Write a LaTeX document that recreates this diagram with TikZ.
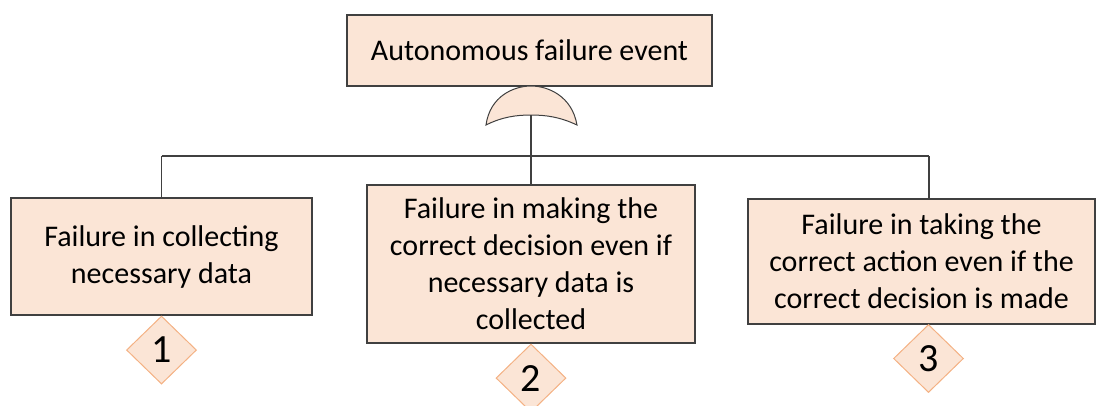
\documentclass[tikz,border=0pt]{standalone}
\usepackage{fontspec}
\setmainfont{Carlito}
\usetikzlibrary{shapes.geometric}
\definecolor{peach}{HTML}{FBE5D6}
\definecolor{peachline}{HTML}{F4B183}
\definecolor{wire}{HTML}{404040}
\begin{document}
\begin{tikzpicture}[x=1pt,y=-1pt,
  event/.style={draw=wire,line width=1.1pt,fill=peach,align=center,
    inner sep=0pt,font=\fontsize{30}{37}\selectfont},
  basic/.style={diamond,draw=peachline,line width=1pt,fill=peach,inner sep=0pt,
    minimum width=70pt,minimum height=68pt,font=\fontsize{40}{44}\selectfont},
  wireline/.style={draw=wire,line width=1.2pt}]
\useasboundingbox (0,0) rectangle (1096,405);

% top event
\node[event,minimum width=365pt,minimum height=71pt] (top) at (529.5,50.5)
  {Autonomous failure event};

% OR gate below the top event
\draw[wireline,line width=1pt,fill=peach] (486,125)
  .. controls (490,96) and (514,86) .. (531,86)
  .. controls (548,86) and (572,96) .. (577,125)
  .. controls (560,117) and (546,115) .. (531,115)
  .. controls (516,115) and (502,117) .. (486,125) -- cycle;
\coordinate (gate) at (531,115);

% intermediate events
\node[event,minimum width=301pt,minimum height=117pt] (b1) at (161.5,256.5)
  {Failure in collecting\\necessary data};
\node[event,minimum width=328pt,minimum height=158pt] (b2) at (531,264)
  {Failure in making the\\correct decision even if\\necessary data is\\collected};
\node[event,minimum width=347pt,minimum height=125pt] (b3) at (921.5,261.5)
  {Failure in taking the\\correct action even if the\\correct decision is made};

% undeveloped events
\node[basic,anchor=north] (d1) at (b1.south) {1};
\node[basic,anchor=north] (d2) at (b2.south) {2};
\node[basic,anchor=north] (d3) at (928.5,324) {3};

% connectors
\coordinate (bus) at (531,156);
\coordinate (j1) at (b1.north |- bus);
\coordinate (j3) at (929,156);
\draw[wireline] (gate) -- (b2.north);
\draw[wireline] (j1) -- (j3);
\draw[wireline] (j1) -- (b1.north);
\draw[wireline] (j3) -- (j3 |- b3.north);
\end{tikzpicture}
\end{document}
